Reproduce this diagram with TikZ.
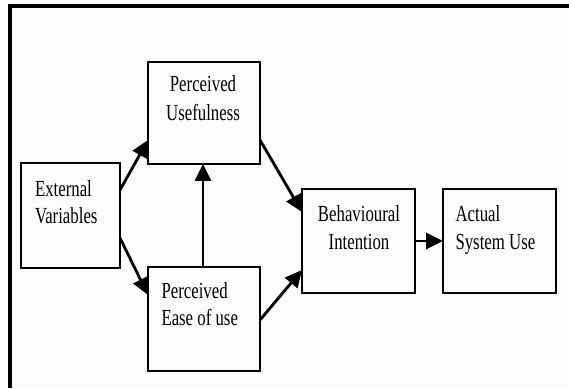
\documentclass[tikz,border=0pt]{standalone}
\usepackage{fontspec}
\setmainfont{Liberation Serif}[FakeStretch=0.73]
\usetikzlibrary{arrows.meta}
\definecolor{paper}{HTML}{FCFCFC}
\tikzset{
  box/.style={draw=black, line width=2.8pt, inner sep=0pt, outer sep=0pt, fill=paper},
  lbl/.style={inner sep=0pt, outer sep=0pt, font=\fontsize{23}{27}\selectfont},
  arr/.style={line width=2.8pt, -{Triangle[length=17pt,width=16pt]}},
}
\begin{document}
\begin{tikzpicture}[x=1pt,y=1pt]
\useasboundingbox (0,0) rectangle (569,388);
\fill[white] (0,0) rectangle (569,388);
\fill[paper] (12,0) rectangle (569,380);
\draw[line width=4pt, line join=miter] (10,0) -- (10,382) -- (569,382);

% boxes
\node[box, minimum width=99pt, minimum height=105pt] (ev) at (70.5,172.5) {};
\node[box, minimum width=112pt, minimum height=102pt] (pu) at (204,275) {};
\node[box, minimum width=112pt, minimum height=104pt] (peou) at (204,69) {};
\node[box, minimum width=113pt, minimum height=104pt] (bi) at (358.5,147) {};
\node[box, minimum width=113pt, minimum height=104pt] (asu) at (499.5,147) {};

% texts
\node[lbl, anchor=base] (pu1) at (203,296) {Perceived};
\node[lbl, anchor=base] (pu2) at (203,267) {Usefulness};
\node[lbl, anchor=base west] (ev1) at (35,191.5) {External};
\node[lbl, anchor=base west] (ev2) at (35,164) {Variables};
\node[lbl, anchor=base west] (pe1) at (161.5,90) {Perceived};
\node[lbl, anchor=base west] (pe2) at (161.5,63) {Ease of use};
\node[lbl, anchor=base] (bi1) at (359,166) {Behavioural};
\node[lbl, anchor=base] (bi2) at (359,139) {Intention};
\node[lbl, anchor=base west] (as1) at (455.5,166) {Actual};
\node[lbl, anchor=base west] (as2) at (455.5,139) {System Use};

% connectors
\draw[arr] ([yshift=-27pt]ev.north east) -- ([yshift=24pt]pu.south west);
\draw[arr] ([yshift=30pt]ev.south east) -- ([yshift=-28pt]peou.north west);
\draw[arr] ([xshift=-1pt]peou.north) -- ([xshift=-1pt]pu.south);
\draw[arr] ([yshift=24pt]pu.south east) -- ([yshift=-23pt]bi.north west);
\draw[arr] ([yshift=51pt]peou.south east) -- ([yshift=23pt]bi.south west);
\draw[arr] (bi.east) -- (asu.west);
\end{tikzpicture}
\end{document}
